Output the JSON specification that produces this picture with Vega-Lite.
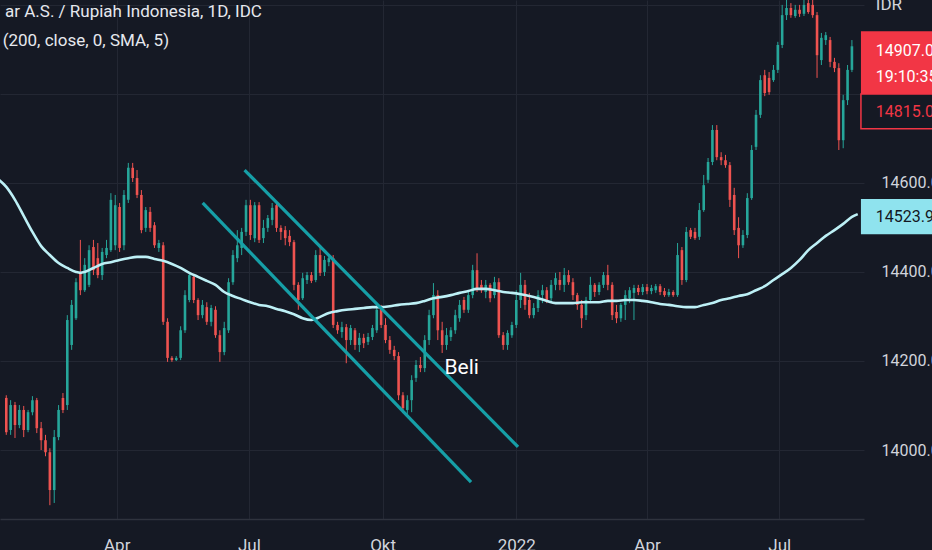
{
  "$schema": "https://vega.github.io/schema/vega-lite/v6.json",
  "width": 864,
  "height": 519,
  "autosize": {"type": "none"},
  "padding": {"left": 0, "top": 0, "right": 68, "bottom": 31},
  "background": "#151924",
  "config": {
    "view": {"stroke": null},
    "font": "Roboto",
    "text": {"font": "Roboto"}
  },
  "datasets": {
    "candles": [
      {"d":"2021-01-15","o":14117,"h":14123,"l":14034,"c":14040},
      {"d":"2021-01-18","o":14045,"h":14112,"l":14034,"c":14101},
      {"d":"2021-01-21","o":14101,"h":14108,"l":14027,"c":14056},
      {"d":"2021-01-24","o":14056,"h":14101,"l":14049,"c":14090},
      {"d":"2021-01-27","o":14090,"h":14099,"l":14029,"c":14045},
      {"d":"2021-01-30","o":14045,"h":14090,"l":14040,"c":14085},
      {"d":"2021-02-02","o":14085,"h":14121,"l":14078,"c":14112},
      {"d":"2021-02-05","o":14112,"h":14117,"l":14038,"c":14049},
      {"d":"2021-02-08","o":14049,"h":14063,"l":14000,"c":14022},
      {"d":"2021-02-11","o":14022,"h":14034,"l":13986,"c":13995},
      {"d":"2021-02-14","o":13995,"h":14004,"l":13876,"c":13910},
      {"d":"2021-02-17","o":13910,"h":14045,"l":13881,"c":14029},
      {"d":"2021-02-20","o":14029,"h":14101,"l":14022,"c":14090},
      {"d":"2021-02-23","o":14117,"h":14128,"l":14083,"c":14090},
      {"d":"2021-02-26","o":14101,"h":14303,"l":14090,"c":14292},
      {"d":"2021-03-01","o":14236,"h":14337,"l":14225,"c":14326},
      {"d":"2021-03-04","o":14296,"h":14386,"l":14292,"c":14377},
      {"d":"2021-03-07","o":14400,"h":14472,"l":14348,"c":14359},
      {"d":"2021-03-10","o":14359,"h":14431,"l":14355,"c":14416},
      {"d":"2021-03-13","o":14371,"h":14460,"l":14366,"c":14449},
      {"d":"2021-03-16","o":14456,"h":14472,"l":14393,"c":14404},
      {"d":"2021-03-19","o":14431,"h":14465,"l":14386,"c":14393},
      {"d":"2021-03-22","o":14393,"h":14454,"l":14382,"c":14445},
      {"d":"2021-03-25","o":14438,"h":14472,"l":14431,"c":14454},
      {"d":"2021-03-28","o":14449,"h":14577,"l":14445,"c":14562},
      {"d":"2021-03-31","o":14460,"h":14573,"l":14449,"c":14550},
      {"d":"2021-04-03","o":14546,"h":14555,"l":14445,"c":14454},
      {"d":"2021-04-06","o":14460,"h":14584,"l":14449,"c":14573},
      {"d":"2021-04-09","o":14562,"h":14645,"l":14555,"c":14634},
      {"d":"2021-04-12","o":14634,"h":14645,"l":14602,"c":14611},
      {"d":"2021-04-15","o":14611,"h":14629,"l":14566,"c":14573},
      {"d":"2021-04-18","o":14573,"h":14584,"l":14487,"c":14494},
      {"d":"2021-04-21","o":14499,"h":14546,"l":14490,"c":14539},
      {"d":"2021-04-24","o":14535,"h":14546,"l":14490,"c":14499},
      {"d":"2021-04-27","o":14505,"h":14512,"l":14454,"c":14460},
      {"d":"2021-04-30","o":14454,"h":14472,"l":14445,"c":14465},
      {"d":"2021-05-03","o":14460,"h":14467,"l":14281,"c":14288},
      {"d":"2021-05-06","o":14288,"h":14296,"l":14198,"c":14207},
      {"d":"2021-05-09","o":14207,"h":14211,"l":14198,"c":14202},
      {"d":"2021-05-12","o":14202,"h":14211,"l":14200,"c":14207},
      {"d":"2021-05-15","o":14207,"h":14278,"l":14202,"c":14269},
      {"d":"2021-05-18","o":14269,"h":14359,"l":14263,"c":14348},
      {"d":"2021-05-21","o":14337,"h":14400,"l":14332,"c":14393},
      {"d":"2021-05-24","o":14389,"h":14395,"l":14330,"c":14337},
      {"d":"2021-05-27","o":14337,"h":14341,"l":14292,"c":14303},
      {"d":"2021-05-30","o":14303,"h":14337,"l":14296,"c":14326},
      {"d":"2021-06-02","o":14321,"h":14332,"l":14281,"c":14288},
      {"d":"2021-06-05","o":14288,"h":14326,"l":14278,"c":14319},
      {"d":"2021-06-08","o":14315,"h":14323,"l":14252,"c":14258},
      {"d":"2021-06-11","o":14258,"h":14269,"l":14198,"c":14220},
      {"d":"2021-06-14","o":14220,"h":14288,"l":14213,"c":14274},
      {"d":"2021-06-17","o":14269,"h":14386,"l":14263,"c":14377},
      {"d":"2021-06-20","o":14377,"h":14449,"l":14371,"c":14438},
      {"d":"2021-06-23","o":14431,"h":14494,"l":14422,"c":14460},
      {"d":"2021-06-26","o":14454,"h":14499,"l":14438,"c":14490},
      {"d":"2021-06-29","o":14490,"h":14562,"l":14481,"c":14550},
      {"d":"2021-07-02","o":14550,"h":14562,"l":14472,"c":14483},
      {"d":"2021-07-05","o":14476,"h":14557,"l":14467,"c":14550},
      {"d":"2021-07-08","o":14550,"h":14557,"l":14465,"c":14472},
      {"d":"2021-07-11","o":14476,"h":14517,"l":14465,"c":14499},
      {"d":"2021-07-14","o":14499,"h":14528,"l":14490,"c":14521},
      {"d":"2021-07-17","o":14517,"h":14555,"l":14505,"c":14544},
      {"d":"2021-07-20","o":14550,"h":14557,"l":14490,"c":14499},
      {"d":"2021-07-23","o":14499,"h":14505,"l":14472,"c":14490},
      {"d":"2021-07-26","o":14494,"h":14503,"l":14460,"c":14476},
      {"d":"2021-07-29","o":14481,"h":14494,"l":14458,"c":14467},
      {"d":"2021-08-01","o":14467,"h":14472,"l":14359,"c":14371},
      {"d":"2021-08-04","o":14371,"h":14377,"l":14315,"c":14337},
      {"d":"2021-08-07","o":14341,"h":14398,"l":14337,"c":14386},
      {"d":"2021-08-10","o":14382,"h":14400,"l":14373,"c":14393},
      {"d":"2021-08-13","o":14393,"h":14400,"l":14375,"c":14380},
      {"d":"2021-08-16","o":14382,"h":14449,"l":14377,"c":14438},
      {"d":"2021-08-19","o":14438,"h":14460,"l":14391,"c":14398},
      {"d":"2021-08-22","o":14400,"h":14436,"l":14391,"c":14427},
      {"d":"2021-08-25","o":14422,"h":14438,"l":14413,"c":14431},
      {"d":"2021-08-28","o":14431,"h":14438,"l":14274,"c":14281},
      {"d":"2021-08-31","o":14281,"h":14288,"l":14261,"c":14269},
      {"d":"2021-09-03","o":14265,"h":14288,"l":14252,"c":14276},
      {"d":"2021-09-06","o":14276,"h":14283,"l":14195,"c":14247},
      {"d":"2021-09-09","o":14247,"h":14281,"l":14236,"c":14274},
      {"d":"2021-09-12","o":14269,"h":14274,"l":14225,"c":14236},
      {"d":"2021-09-15","o":14236,"h":14263,"l":14220,"c":14252},
      {"d":"2021-09-18","o":14252,"h":14261,"l":14229,"c":14240},
      {"d":"2021-09-21","o":14243,"h":14263,"l":14236,"c":14254},
      {"d":"2021-09-24","o":14254,"h":14281,"l":14247,"c":14274},
      {"d":"2021-09-27","o":14269,"h":14326,"l":14263,"c":14315},
      {"d":"2021-09-30","o":14319,"h":14326,"l":14274,"c":14281},
      {"d":"2021-10-03","o":14281,"h":14296,"l":14240,"c":14247},
      {"d":"2021-10-06","o":14247,"h":14256,"l":14216,"c":14225},
      {"d":"2021-10-09","o":14225,"h":14234,"l":14202,"c":14211},
      {"d":"2021-10-12","o":14211,"h":14220,"l":14112,"c":14123},
      {"d":"2021-10-15","o":14123,"h":14130,"l":14083,"c":14094},
      {"d":"2021-10-18","o":14090,"h":14123,"l":14081,"c":14112},
      {"d":"2021-10-21","o":14112,"h":14168,"l":14085,"c":14157},
      {"d":"2021-10-24","o":14162,"h":14202,"l":14153,"c":14191},
      {"d":"2021-10-27","o":14191,"h":14209,"l":14175,"c":14184},
      {"d":"2021-10-30","o":14184,"h":14258,"l":14175,"c":14247},
      {"d":"2021-11-02","o":14247,"h":14315,"l":14236,"c":14303},
      {"d":"2021-11-05","o":14303,"h":14375,"l":14296,"c":14348},
      {"d":"2021-11-08","o":14348,"h":14359,"l":14247,"c":14269},
      {"d":"2021-11-11","o":14269,"h":14288,"l":14218,"c":14236},
      {"d":"2021-11-14","o":14236,"h":14274,"l":14225,"c":14258},
      {"d":"2021-11-17","o":14254,"h":14276,"l":14245,"c":14269},
      {"d":"2021-11-20","o":14269,"h":14315,"l":14261,"c":14303},
      {"d":"2021-11-23","o":14296,"h":14337,"l":14288,"c":14326},
      {"d":"2021-11-26","o":14337,"h":14344,"l":14308,"c":14315},
      {"d":"2021-11-29","o":14315,"h":14355,"l":14308,"c":14348},
      {"d":"2021-12-02","o":14348,"h":14416,"l":14341,"c":14404},
      {"d":"2021-12-05","o":14404,"h":14442,"l":14355,"c":14364},
      {"d":"2021-12-08","o":14371,"h":14382,"l":14353,"c":14359},
      {"d":"2021-12-11","o":14355,"h":14382,"l":14341,"c":14371},
      {"d":"2021-12-14","o":14371,"h":14375,"l":14332,"c":14341},
      {"d":"2021-12-17","o":14348,"h":14389,"l":14341,"c":14377},
      {"d":"2021-12-20","o":14377,"h":14386,"l":14252,"c":14258},
      {"d":"2021-12-23","o":14258,"h":14265,"l":14225,"c":14236},
      {"d":"2021-12-26","o":14236,"h":14269,"l":14225,"c":14263},
      {"d":"2021-12-29","o":14258,"h":14288,"l":14252,"c":14281},
      {"d":"2022-01-01","o":14281,"h":14359,"l":14274,"c":14337},
      {"d":"2022-01-04","o":14337,"h":14398,"l":14319,"c":14371},
      {"d":"2022-01-07","o":14371,"h":14382,"l":14315,"c":14326},
      {"d":"2022-01-10","o":14337,"h":14353,"l":14296,"c":14303},
      {"d":"2022-01-13","o":14303,"h":14330,"l":14296,"c":14319},
      {"d":"2022-01-16","o":14319,"h":14359,"l":14310,"c":14348},
      {"d":"2022-01-19","o":14348,"h":14371,"l":14330,"c":14359},
      {"d":"2022-01-22","o":14359,"h":14366,"l":14330,"c":14337},
      {"d":"2022-01-25","o":14341,"h":14382,"l":14332,"c":14371},
      {"d":"2022-01-28","o":14371,"h":14398,"l":14359,"c":14386},
      {"d":"2022-01-31","o":14382,"h":14400,"l":14359,"c":14371},
      {"d":"2022-02-03","o":14371,"h":14409,"l":14355,"c":14393},
      {"d":"2022-02-06","o":14393,"h":14404,"l":14371,"c":14377},
      {"d":"2022-02-09","o":14377,"h":14386,"l":14337,"c":14348},
      {"d":"2022-02-12","o":14348,"h":14353,"l":14315,"c":14326},
      {"d":"2022-02-15","o":14326,"h":14337,"l":14274,"c":14296},
      {"d":"2022-02-18","o":14303,"h":14344,"l":14292,"c":14337},
      {"d":"2022-02-21","o":14337,"h":14389,"l":14330,"c":14371},
      {"d":"2022-02-24","o":14371,"h":14375,"l":14344,"c":14355},
      {"d":"2022-02-27","o":14355,"h":14377,"l":14348,"c":14371},
      {"d":"2022-03-02","o":14371,"h":14400,"l":14364,"c":14393},
      {"d":"2022-03-05","o":14393,"h":14416,"l":14359,"c":14371},
      {"d":"2022-03-08","o":14371,"h":14377,"l":14292,"c":14303},
      {"d":"2022-03-11","o":14310,"h":14326,"l":14285,"c":14296},
      {"d":"2022-03-14","o":14296,"h":14330,"l":14288,"c":14326},
      {"d":"2022-03-17","o":14326,"h":14359,"l":14292,"c":14348},
      {"d":"2022-03-20","o":14341,"h":14366,"l":14330,"c":14359},
      {"d":"2022-03-23","o":14353,"h":14371,"l":14292,"c":14364},
      {"d":"2022-03-26","o":14364,"h":14371,"l":14348,"c":14355},
      {"d":"2022-03-29","o":14355,"h":14373,"l":14348,"c":14366},
      {"d":"2022-04-01","o":14366,"h":14373,"l":14350,"c":14357},
      {"d":"2022-04-04","o":14357,"h":14371,"l":14350,"c":14364},
      {"d":"2022-04-07","o":14359,"h":14373,"l":14353,"c":14368},
      {"d":"2022-04-10","o":14368,"h":14373,"l":14348,"c":14355},
      {"d":"2022-04-13","o":14357,"h":14364,"l":14344,"c":14348},
      {"d":"2022-04-16","o":14348,"h":14362,"l":14344,"c":14355},
      {"d":"2022-04-19","o":14355,"h":14359,"l":14344,"c":14348},
      {"d":"2022-04-22","o":14348,"h":14465,"l":14344,"c":14438},
      {"d":"2022-04-25","o":14449,"h":14456,"l":14371,"c":14382},
      {"d":"2022-04-28","o":14382,"h":14501,"l":14377,"c":14490},
      {"d":"2022-05-01","o":14494,"h":14499,"l":14474,"c":14479},
      {"d":"2022-05-04","o":14490,"h":14499,"l":14472,"c":14476},
      {"d":"2022-05-07","o":14479,"h":14555,"l":14472,"c":14539},
      {"d":"2022-05-10","o":14539,"h":14618,"l":14535,"c":14595},
      {"d":"2022-05-13","o":14607,"h":14656,"l":14600,"c":14647},
      {"d":"2022-05-16","o":14647,"h":14730,"l":14640,"c":14719},
      {"d":"2022-05-19","o":14719,"h":14730,"l":14651,"c":14658},
      {"d":"2022-05-22","o":14658,"h":14669,"l":14640,"c":14651},
      {"d":"2022-05-25","o":14651,"h":14663,"l":14634,"c":14640},
      {"d":"2022-05-28","o":14640,"h":14647,"l":14546,"c":14562},
      {"d":"2022-05-31","o":14573,"h":14589,"l":14483,"c":14494},
      {"d":"2022-06-03","o":14499,"h":14523,"l":14431,"c":14460},
      {"d":"2022-06-06","o":14460,"h":14494,"l":14454,"c":14483},
      {"d":"2022-06-09","o":14483,"h":14577,"l":14476,"c":14566},
      {"d":"2022-06-12","o":14566,"h":14685,"l":14562,"c":14674},
      {"d":"2022-06-15","o":14681,"h":14764,"l":14674,"c":14753},
      {"d":"2022-06-18","o":14753,"h":14842,"l":14746,"c":14831},
      {"d":"2022-06-21","o":14842,"h":14854,"l":14795,"c":14802},
      {"d":"2022-06-24","o":14836,"h":14849,"l":14798,"c":14804},
      {"d":"2022-06-27","o":14831,"h":14865,"l":14827,"c":14854},
      {"d":"2022-06-30","o":14854,"h":14917,"l":14847,"c":14910},
      {"d":"2022-07-03","o":14910,"h":15000,"l":14903,"c":14977},
      {"d":"2022-07-06","o":14977,"h":15022,"l":14966,"c":14993},
      {"d":"2022-07-09","o":14993,"h":15004,"l":14971,"c":14977},
      {"d":"2022-07-12","o":14975,"h":15000,"l":14971,"c":14989},
      {"d":"2022-07-15","o":14989,"h":15000,"l":14973,"c":14980},
      {"d":"2022-07-18","o":14980,"h":15018,"l":14975,"c":15000},
      {"d":"2022-07-21","o":15004,"h":15022,"l":14980,"c":14984},
      {"d":"2022-07-24","o":15000,"h":15018,"l":14971,"c":14977},
      {"d":"2022-07-27","o":14977,"h":14984,"l":14836,"c":14887},
      {"d":"2022-07-30","o":14876,"h":14937,"l":14865,"c":14926},
      {"d":"2022-08-02","o":14921,"h":14939,"l":14910,"c":14932},
      {"d":"2022-08-05","o":14921,"h":14928,"l":14860,"c":14872},
      {"d":"2022-08-08","o":14872,"h":14881,"l":14849,"c":14858},
      {"d":"2022-08-11","o":14858,"h":14869,"l":14674,"c":14696},
      {"d":"2022-08-14","o":14696,"h":14798,"l":14678,"c":14786},
      {"d":"2022-08-17","o":14786,"h":14865,"l":14775,"c":14854},
      {"d":"2022-08-20","o":14854,"h":14921,"l":14849,"c":14907}
    ],
    "sma": [
      {"d":"2021-01-08","v":14612},{"d":"2021-01-15","v":14591},{"d":"2021-01-21","v":14562},{"d":"2021-01-27","v":14526},
      {"d":"2021-02-02","v":14490},{"d":"2021-02-08","v":14458},{"d":"2021-02-14","v":14438},
      {"d":"2021-02-20","v":14420},{"d":"2021-02-26","v":14409},{"d":"2021-03-04","v":14400},
      {"d":"2021-03-07","v":14398},{"d":"2021-03-10","v":14400},{"d":"2021-03-16","v":14409},
      {"d":"2021-03-22","v":14418},{"d":"2021-03-28","v":14422},{"d":"2021-04-03","v":14427},
      {"d":"2021-04-09","v":14431},{"d":"2021-04-15","v":14434},{"d":"2021-04-21","v":14434},
      {"d":"2021-04-27","v":14429},{"d":"2021-05-03","v":14425},{"d":"2021-05-09","v":14418},
      {"d":"2021-05-15","v":14409},{"d":"2021-05-21","v":14398},{"d":"2021-05-27","v":14389},
      {"d":"2021-06-02","v":14380},{"d":"2021-06-08","v":14371},{"d":"2021-06-14","v":14355},
      {"d":"2021-06-20","v":14346},{"d":"2021-06-26","v":14339},{"d":"2021-07-02","v":14332},
      {"d":"2021-07-08","v":14326},{"d":"2021-07-14","v":14323},{"d":"2021-07-20","v":14317},
      {"d":"2021-07-26","v":14312},{"d":"2021-08-01","v":14305},{"d":"2021-08-07","v":14296},
      {"d":"2021-08-13","v":14292},{"d":"2021-08-19","v":14299},{"d":"2021-08-25","v":14308},
      {"d":"2021-08-31","v":14312},{"d":"2021-09-06","v":14315},{"d":"2021-09-12","v":14317},
      {"d":"2021-09-18","v":14319},{"d":"2021-09-24","v":14321},{"d":"2021-09-30","v":14321},
      {"d":"2021-10-06","v":14323},{"d":"2021-10-12","v":14326},{"d":"2021-10-18","v":14328},
      {"d":"2021-10-24","v":14330},{"d":"2021-10-30","v":14335},{"d":"2021-11-05","v":14341},
      {"d":"2021-11-11","v":14344},{"d":"2021-11-17","v":14348},{"d":"2021-11-23","v":14353},
      {"d":"2021-11-29","v":14357},{"d":"2021-12-05","v":14362},{"d":"2021-12-11","v":14362},
      {"d":"2021-12-17","v":14359},{"d":"2021-12-23","v":14355},{"d":"2021-12-29","v":14353},
      {"d":"2022-01-04","v":14350},{"d":"2022-01-10","v":14346},{"d":"2022-01-16","v":14341},
      {"d":"2022-01-22","v":14335},{"d":"2022-01-28","v":14330},{"d":"2022-02-03","v":14330},
      {"d":"2022-02-09","v":14330},{"d":"2022-02-15","v":14332},{"d":"2022-02-21","v":14332},
      {"d":"2022-02-27","v":14332},{"d":"2022-03-05","v":14335},{"d":"2022-03-11","v":14335},
      {"d":"2022-03-17","v":14337},{"d":"2022-03-23","v":14337},{"d":"2022-03-29","v":14335},
      {"d":"2022-04-04","v":14332},{"d":"2022-04-10","v":14328},{"d":"2022-04-16","v":14326},
      {"d":"2022-04-22","v":14323},{"d":"2022-04-28","v":14321},{"d":"2022-05-04","v":14321},
      {"d":"2022-05-10","v":14326},{"d":"2022-05-16","v":14330},{"d":"2022-05-22","v":14337},
      {"d":"2022-05-28","v":14341},{"d":"2022-06-03","v":14346},{"d":"2022-06-09","v":14350},
      {"d":"2022-06-15","v":14359},{"d":"2022-06-21","v":14368},{"d":"2022-06-27","v":14382},
      {"d":"2022-07-03","v":14395},{"d":"2022-07-09","v":14409},{"d":"2022-07-15","v":14427},
      {"d":"2022-07-21","v":14449},{"d":"2022-07-27","v":14465},{"d":"2022-08-02","v":14481},
      {"d":"2022-08-08","v":14494},{"d":"2022-08-14","v":14508},{"d":"2022-08-20","v":14523.9},
      {"d":"2022-08-24","v":14530}
    ],
    "channel": [
      {"d":"2021-06-28T00:00Z","p":14629,"d2":"2022-01-02T05:00Z","p2":14007},
      {"d":"2021-05-30T04:00Z","p":14555,"d2":"2021-11-30T21:00Z","p2":13928}
    ]
  },
  "layer": [
    {
      "data": {"name": "candles"},
      "mark": {"type": "rule", "strokeWidth": 1, "clip": true},
      "encoding": {
        "x": {
          "field": "d", "type": "temporal", "title": null,
          "scale": {"type": "utc", "domain": [
            {"year": 2021, "month": 1, "date": 14, "hours": 3, "utc": true},
            {"year": 2022, "month": 8, "date": 24, "hours": 21, "utc": true}
          ]},
          "axis": {
            "values": [
              {"year": 2021, "month": 4, "date": 1, "utc": true},
              {"year": 2021, "month": 7, "date": 1, "utc": true},
              {"year": 2021, "month": 10, "date": 1, "utc": true},
              {"year": 2022, "month": 1, "date": 1, "utc": true},
              {"year": 2022, "month": 4, "date": 1, "utc": true},
              {"year": 2022, "month": 7, "date": 1, "utc": true}
            ],
            "labelExpr": "utcmonth(datum.value) == 0 ? utcFormat(datum.value, '%Y') : utcmonth(datum.value) == 3 ? 'Apr' : utcmonth(datum.value) == 6 ? 'Jul' : 'Okt'",
            "grid": true, "gridColor": "#232733", "gridWidth": 1,
            "ticks": false, "domain": true, "domainColor": "#2f333e", "domainWidth": 1.5,
            "labelColor": "#d1d4dc", "labelFontSize": 17, "labelPadding": 18,
            "labelFont": "Roboto"
          }
        },
        "y": {
          "field": "l", "type": "quantitative", "title": null,
          "scale": {"domain": [13845, 15011], "zero": false, "nice": false},
          "axis": {
            "orient": "right",
            "values": [14000, 14200, 14400, 14600, 14800, 15000],
            "labelExpr": "datum.value <= 14600 ? format(datum.value, '.1f') : ''",
            "grid": true, "gridColor": "#232733", "gridWidth": 1,
            "ticks": false, "domain": false,
            "labelColor": "#d1d4dc", "labelFontSize": 16, "labelPadding": 17, "labelAlign": "left",
            "labelFont": "Roboto"
          }
        },
        "y2": {"field": "h"},
        "color": {"condition": {"test": "datum.c >= datum.o", "value": "#26a69a"}, "value": "#ef5350"}
      }
    },
    {
      "data": {"name": "candles"},
      "mark": {"type": "bar", "size": 2.6, "clip": true},
      "encoding": {
        "x": {"field": "d", "type": "temporal", "title": null},
        "y": {"field": "o", "type": "quantitative", "title": null},
        "y2": {"field": "c"},
        "color": {"condition": {"test": "datum.c >= datum.o", "value": "#26a69a"}, "value": "#ef5350"}
      }
    },
    {
      "data": {"name": "sma"},
      "mark": {"type": "line", "color": "#bdf0f6", "strokeWidth": 2.6, "interpolate": "monotone", "clip": true},
      "encoding": {
        "x": {"field": "d", "type": "temporal", "title": null},
        "y": {"field": "v", "type": "quantitative", "title": null}
      }
    },
    {
      "data": {"name": "channel"},
      "mark": {"type": "rule", "color": "#169fa7", "strokeWidth": 3.2, "clip": true},
      "encoding": {
        "x": {"field": "d", "type": "temporal", "title": null},
        "x2": {"field": "d2"},
        "y": {"field": "p", "type": "quantitative", "title": null},
        "y2": {"field": "p2"}
      }
    },
    {
      "mark": {"type": "rule", "color": "#e0405a", "strokeDash": [1, 2], "strokeWidth": 1, "opacity": 0.85},
      "encoding": {"y": {"datum": 14907, "type": "quantitative", "title": null}}
    },
    {
      "data": {"values": [
        {"d": "2021-01-14T03:00Z", "p": 14984, "t": "ar A.S. / Rupiah Indonesia, 1D, IDC"},
        {"d": "2021-01-12T12:00Z", "p": 14919, "t": "(200, close, 0, SMA, 5)"}
      ]},
      "mark": {"type": "text", "align": "left", "baseline": "middle", "fontSize": 17, "color": "#e6e8ee"},
      "encoding": {
        "x": {"field": "d", "type": "temporal", "title": null},
        "y": {"field": "p", "type": "quantitative", "title": null},
        "text": {"field": "t"}
      }
    },
    {
      "data": {"values": [{"d": "2021-11-24T10:00Z", "p": 14184, "t": "Beli"}]},
      "mark": {"type": "text", "align": "center", "baseline": "middle", "fontSize": 21, "color": "#ffffff"},
      "encoding": {
        "x": {"field": "d", "type": "temporal", "title": null},
        "y": {"field": "p", "type": "quantitative", "title": null},
        "text": {"field": "t"}
      }
    },
    {
      "data": {"values": [{"d": "2022-08-26T05:00Z", "d2": "2022-11-15T00:00Z", "p": 14941, "p2": 14800}]},
      "mark": {"type": "rect", "color": "#f23645"},
      "encoding": {
        "x": {"field": "d", "type": "temporal", "title": null},
        "x2": {"field": "d2"},
        "y": {"field": "p", "type": "quantitative", "title": null},
        "y2": {"field": "p2"}
      }
    },
    {
      "data": {"values": [{"d": "2022-08-26T05:00Z", "d2": "2022-11-15T00:00Z", "p": 14800, "p2": 14722}]},
      "mark": {"type": "rect", "fill": "#151924", "stroke": "#f23645", "strokeWidth": 1.5},
      "encoding": {
        "x": {"field": "d", "type": "temporal", "title": null},
        "x2": {"field": "d2"},
        "y": {"field": "p", "type": "quantitative", "title": null},
        "y2": {"field": "p2"}
      }
    },
    {
      "data": {"values": [{"d": "2022-08-26T05:00Z", "d2": "2022-11-15T00:00Z", "p": 14564, "p2": 14485}]},
      "mark": {"type": "rect", "color": "#8fe3ee"},
      "encoding": {
        "x": {"field": "d", "type": "temporal", "title": null},
        "x2": {"field": "d2"},
        "y": {"field": "p", "type": "quantitative", "title": null},
        "y2": {"field": "p2"}
      }
    },
    {
      "data": {"values": [
        {"d": "2022-09-05T10:00Z", "p": 14896, "t": "14907.0"},
        {"d": "2022-09-05T10:00Z", "p": 14838, "t": "19:10:35"}
      ]},
      "mark": {"type": "text", "align": "left", "baseline": "middle", "fontSize": 16, "color": "#ffffff"},
      "encoding": {
        "x": {"field": "d", "type": "temporal", "title": null},
        "y": {"field": "p", "type": "quantitative", "title": null},
        "text": {"field": "t"}
      }
    },
    {
      "data": {"values": [{"d": "2022-09-05T10:00Z", "p": 14759, "t": "14815.0"}]},
      "mark": {"type": "text", "align": "left", "baseline": "middle", "fontSize": 16, "color": "#f23645"},
      "encoding": {
        "x": {"field": "d", "type": "temporal", "title": null},
        "y": {"field": "p", "type": "quantitative", "title": null},
        "text": {"field": "t"}
      }
    },
    {
      "data": {"values": [{"d": "2022-09-05T10:00Z", "p": 14523.9, "t": "14523.9"}]},
      "mark": {"type": "text", "align": "left", "baseline": "middle", "fontSize": 16, "color": "#131722"},
      "encoding": {
        "x": {"field": "d", "type": "temporal", "title": null},
        "y": {"field": "p", "type": "quantitative", "title": null},
        "text": {"field": "t"}
      }
    },
    {
      "data": {"values": [{"d": "2022-09-05T10:00Z", "p": 14989, "t": "IDR"}]},
      "mark": {"type": "text", "align": "left", "baseline": "alphabetic", "fontSize": 17, "color": "#d1d4dc"},
      "encoding": {
        "x": {"field": "d", "type": "temporal", "title": null},
        "y": {"field": "p", "type": "quantitative", "title": null},
        "text": {"field": "t"}
      }
    }
  ]
}
